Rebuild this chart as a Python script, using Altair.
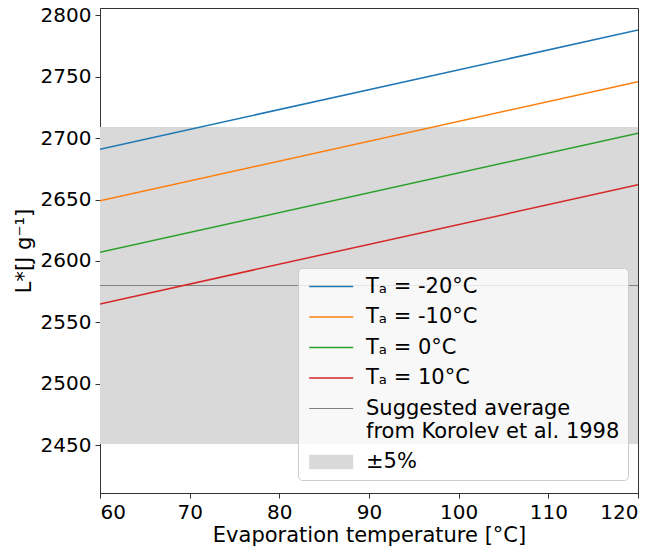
import altair as alt
import pandas as pd

# ---- data ----
evap_temp = [60, 120]
series_names = ["Tₐ = -20°C", "Tₐ = -10°C", "Tₐ = 0°C", "Tₐ = 10°C"]
L_ta_m20 = [2691, 2788]
L_ta_m10 = [2649, 2746]
L_ta_0 = [2607, 2704]
L_ta_10 = [2565, 2662]
korolev_name = "Suggested average|from Korolev et al. 1998"
korolev_avg = 2580
band_name = "±5%"
band_low = 2451
band_high = 2709
x_ticks = [60, 70, 80, 90, 100, 110, 120]
y_ticks = [2450, 2500, 2550, 2600, 2650, 2700, 2750, 2800]

series_vals = [L_ta_m20, L_ta_m10, L_ta_0, L_ta_10]
rows = []
for name, vals in zip(series_names, series_vals):
    for x, y in zip(evap_temp, vals):
        rows.append({"x": x, "y": y, "s": name})
lines_df = pd.DataFrame(rows)
korolev_df = pd.DataFrame({"x": evap_temp, "y": [korolev_avg] * len(evap_temp), "s": [korolev_name] * len(evap_temp)})
band_df = pd.DataFrame([{"x": evap_temp[0], "x2": evap_temp[1], "y": band_low, "y2": band_high, "s": band_name}])

domain = series_names + [korolev_name, band_name]
legend_df = pd.DataFrame({"s": domain})
colors = ["#1f77b4", "#ff7f0e", "#2ca02c", "#d62728", "#808080", "#d9d9d9"]
# legend handles: thin bars for lines, a tall patch for the band
line_handle = "M-1,-0.1H5V0.1H-1Z"
thin_handle = "M-1,-0.08H5V0.08H-1Z"
patch_handle = "M-1,-1H5V1H-1Z"
handles = [line_handle] * 4 + [thin_handle, patch_handle]

FONT = "DejaVu Sans"
xscale = alt.Scale(domain=[60, 120], nice=False, zero=False)
yscale = alt.Scale(domain=[2411, 2806], nice=False, zero=False)

legend = alt.Legend(
    title=None, orient="none", legendX=198, legendY=260,
    symbolSize=215, labelFontSize=21, labelFont=FONT,
    labelExpr="split(datum.label, '|')", rowPadding=8.5, labelLimit=400,
    fillColor="rgba(255,255,255,0.8)", strokeColor="#cccccc", cornerRadius=4,
    padding=8, labelOffset=39, labelColor="#000",
    symbolStrokeWidth=0, symbolOpacity=1,
)
# mark scales use the reversed order so that their (hidden) legends stay separate
domain_rev = domain[::-1]
color_enc = alt.Color("s:N", scale=alt.Scale(domain=domain_rev, range=colors[::-1]), legend=None)

band = alt.Chart(band_df).mark_rect(opacity=1).encode(
    x=alt.X("x:Q", scale=xscale),
    x2="x2",
    y=alt.Y("y:Q", scale=yscale),
    y2="y2",
    color=color_enc,
)

korolev = alt.Chart(korolev_df).mark_line(clip=True, strokeWidth=1.2).encode(
    x=alt.X("x:Q", scale=xscale),
    y=alt.Y("y:Q", scale=yscale),
    color=color_enc,
)

lines = alt.Chart(lines_df).mark_line(clip=True, strokeWidth=1.5).encode(
    x=alt.X("x:Q", scale=xscale, title="Evaporation temperature [°C]",
            axis=alt.Axis(values=x_ticks, format="d", titlePadding=2)),
    y=alt.Y("y:Q", scale=yscale, title="L*[J g⁻¹]",
            axis=alt.Axis(values=y_ticks, format="d", titlePadding=6)),
    color=color_enc,
    detail="s:N",
)

# legend-only layer (points of zero size)
legend_layer = alt.Chart(legend_df).mark_point(filled=True, size=0, opacity=1).encode(
    fill=alt.Fill("s:N", scale=alt.Scale(domain=domain, range=colors), legend=legend, sort=domain),
    shape=alt.Shape("s:N", scale=alt.Scale(domain=domain, range=handles), legend=legend, sort=domain),
)

chart = alt.layer(band, korolev, lines, legend_layer).properties(
    width=538, height=485,
    autosize=alt.AutoSizeParams(type="none"),
    padding={"left": 92, "top": 0, "right": 26, "bottom": 54},
).configure_axis(
    labelFont=FONT, titleFont=FONT, labelFontSize=20, titleFontSize=21,
    labelColor="#000", titleColor="#000", titleFontWeight="normal",
    domainColor="#333", tickColor="#333", tickSize=5, grid=False,
    labelPadding=4,
).configure_view(stroke="#333", strokeWidth=1)

chart.save("out.html", embed_options={"renderer": "svg", "actions": False})
